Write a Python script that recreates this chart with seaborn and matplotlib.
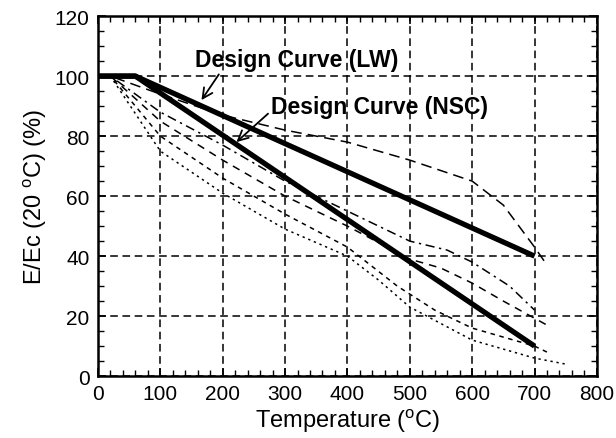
import matplotlib
matplotlib.use("Agg")
import matplotlib.pyplot as plt
from matplotlib.ticker import MultipleLocator
import seaborn as sns
import pandas as pd

# design curves
design_temp = [0, 60, 700]
design_lw = [100, 100, 40]
design_nsc = [100, 100, 10]

# test curves
temp_a = [0, 20, 100, 200, 300, 400, 500, 600, 650, 700, 720]
val_a = [100, 100, 94, 87, 82, 78, 72, 65, 57, 43, 37]
temp_b = [0, 20, 100, 200, 300, 400, 500, 560, 600, 660, 700]
val_b = [100, 100, 88, 77, 65, 55, 45, 42, 38, 30, 22]
temp_c = [0, 20, 100, 200, 300, 400, 500, 550, 600, 650, 720]
val_c = [100, 100, 85, 72, 60, 50, 39, 36, 31, 25, 17]
temp_d = [0, 20, 100, 200, 300, 400, 480, 540, 600, 700, 720]
val_d = [100, 100, 80, 66, 54, 43, 30, 22, 16, 10, 8]
temp_e = [0, 20, 100, 200, 300, 400, 450, 500, 600, 700, 750]
val_e = [100, 100, 75, 61, 49, 40, 32, 23, 12, 6, 4]

sns.set_style("ticks")
plt.rcParams['font.family'] = ['Liberation Sans', 'DejaVu Sans']
plt.rcParams['text.color'] = 'black'
plt.rcParams['axes.labelcolor'] = 'black'
plt.rcParams['xtick.color'] = 'black'
plt.rcParams['ytick.color'] = 'black'

fig = plt.figure(figsize=(6.16, 4.39), dpi=100)
ax = fig.add_axes([0.159, 0.141, 0.81, 0.82])

tests = [
    (temp_a, val_a, (0, (7, 4))),
    (temp_b, val_b, (0, (6, 3, 1.5, 3))),
    (temp_c, val_c, (0, (5, 4))),
    (temp_d, val_d, (0, (3, 3))),
    (temp_e, val_e, (0, (1.5, 2.5))),
]
for t, v, ls in tests:
    df = pd.DataFrame({'T': t, 'E': v})
    sns.lineplot(data=df, x='T', y='E', ax=ax, color='black', lw=1.1,
                 linestyle=ls, estimator=None, sort=False)

for vals in (design_lw, design_nsc):
    df = pd.DataFrame({'T': design_temp, 'E': vals})
    sns.lineplot(data=df, x='T', y='E', ax=ax, color='black', lw=3.8,
                 estimator=None, sort=False, solid_capstyle='butt')

ax.set_xlim(0, 800)
ax.set_ylim(0, 120)
ax.xaxis.set_major_locator(MultipleLocator(100))
ax.xaxis.set_minor_locator(MultipleLocator(20))
ax.yaxis.set_major_locator(MultipleLocator(20))
ax.yaxis.set_minor_locator(MultipleLocator(5))
ax.tick_params(which='both', direction='in', top=True, right=True)
ax.tick_params(which='major', length=6, width=1.2, labelsize=15, pad=6)
ax.tick_params(which='minor', length=4, width=1)
ax.grid(True, which='major', color='black', linestyle=(0, (5, 3)), lw=1.1)
for s in ax.spines.values():
    s.set_linewidth(1.8)
    s.set_color('black')

ax.set_xlabel(r'Temperature ($^{\mathregular{o}}$C)', fontsize=17, labelpad=2)
ax.set_ylabel(r'E/Ec (20 $^{\mathregular{o}}$C) (%)', fontsize=17, labelpad=4)

ax.annotate('Design Curve (LW)', xy=(166, 92), xytext=(155, 105.5),
            fontsize=16.5, fontweight='bold', va='center',
            arrowprops=dict(arrowstyle='->', color='black', lw=1.3,
                            shrinkA=0, shrinkB=0, mutation_scale=18,
                            relpos=(0.13, 0)))
ax.annotate('Design Curve (NSC)', xy=(222, 78), xytext=(278, 90),
            fontsize=16.5, fontweight='bold', va='center',
            arrowprops=dict(arrowstyle='->', color='black', lw=1.3,
                            shrinkA=0, shrinkB=0, mutation_scale=18,
                            relpos=(0, 0.3)))

fig.savefig('out.png', dpi=100)
